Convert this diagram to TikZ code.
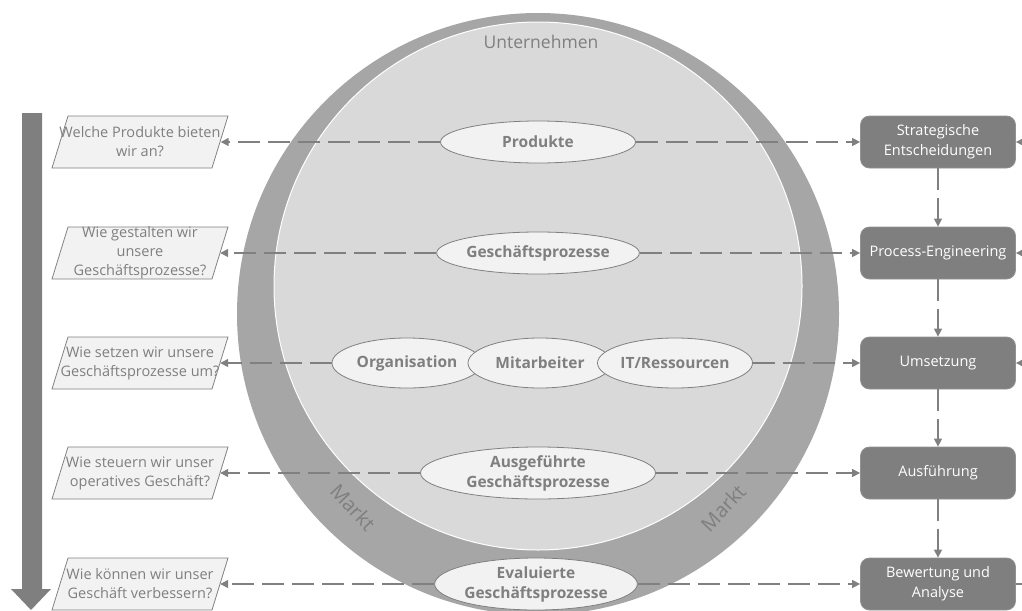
\documentclass[tikz,border=0pt]{standalone}
\usepackage{fontspec}
\setmainfont{Open Sans}
\usetikzlibrary{shapes.geometric,arrows.meta}
\definecolor{ring}{HTML}{A6A6A6}
\definecolor{core}{HTML}{D9D9D9}
\definecolor{pale}{HTML}{F2F2F2}
\definecolor{ink}{HTML}{7F7F7F}
\definecolor{linec}{HTML}{808080}
\begin{document}
\begin{tikzpicture}[x=1pt,y=-1pt,
  conn/.style={draw=linec, line width=1.4pt, dash pattern=on 22pt off 8pt,
    -{Triangle[length=8pt,width=8pt]}},
  plain/.style={draw=linec, line width=1.4pt},
  ell/.style={ellipse, draw=linec, line width=0.8pt, fill=pale, text=ink,
    font=\bfseries\fontsize{15.5}{20}\selectfont, inner sep=0pt, align=center},
  stage/.style={rounded corners=9pt, fill=ink, draw=ink!85!white, line width=0.8pt,
    text=white, minimum width=155, minimum height=52, align=center,
    font=\fontsize{14.5}{20}\selectfont, inner sep=0pt},
  qtext/.style={minimum width=160, minimum height=52, text=ink, align=center,
    inner sep=0pt, font=\fontsize{14.5}{19}\selectfont},
  para/.style={fill=pale, draw=linec, line width=0.8pt},
  ringtext/.style={text=ink, font=\fontsize{20}{22}\selectfont}
]
\useasboundingbox (0,0) rectangle (1022,610);
\clip (0,0) rectangle (1022,610);

% company inside its market
\fill[ring] (538,314) circle[radius=301];
\filldraw[fill=core, draw=white, line width=1pt] (538,286) circle[radius=264];
\node[text=ink, font=\fontsize{17.5}{22}\selectfont] (unt) at (541,42) {Unternehmen};
\node[ringtext, rotate=-47] (markt1) at (353,507) {Markt};
\node[ringtext, rotate=47] (markt2) at (723,508) {Markt};

% downward time arrow
\fill[ink] (22,113) -- (42,113) -- (42,589) -- (51,589) -- (31,610)
  -- (11,589) -- (22,589) -- cycle;

% question parallelograms
\foreach \y in {142,253,363,473,584}
  \draw[para] (52,\y+26) -- (68,\y-26) -- (228,\y-26) -- (212,\y+26) -- cycle;
\node[qtext] (q1) at (140,142) {Welche Produkte bieten\\wir an?};
\node[qtext] (q2) at (140,253) {Wie gestalten wir\\unsere\\Geschäftsprozesse?};
\node[qtext] (q3) at (140,363) {Wie setzen wir unsere\\Geschäftsprozesse um?};
\node[qtext] (q4) at (140,473) {Wie steuern wir unser\\operatives Geschäft?};
\node[qtext] (q5) at (140,584) {Wie können wir unser\\Geschäft verbessern?};

% elements of the company
\node[ell, minimum width=195, minimum height=42] (e1) at (538,142) {Produkte};
\node[ell, minimum width=195, minimum height=42] (e2) at (538,253) {Geschäftsprozesse};
\node[ell, minimum width=150, minimum height=50] (org) at (407,363) {Organisation};
\node[ell, minimum width=144, minimum height=50] (mit) at (540,363) {Mitarbeiter};
\node[ell, minimum width=155, minimum height=50] (its) at (675,363) {IT/Ressourcen};
\node[ell, minimum width=235, minimum height=52] (e4) at (538,473) {Ausgeführte\\Geschäftsprozesse};
\node[ell, minimum width=195, minimum height=52] (e5) at (536,584) {Evaluierte\\Geschäftsprozesse};

% management stages
\node[stage] (b1) at (938,142) {Strategische\\Entscheidungen};
\node[stage] (b2) at (938,253) {Process-Engineering};
\node[stage] (b3) at (938,363) {Umsetzung};
\node[stage] (b4) at (938,473) {Ausführung};
\node[stage] (b5) at (938,584) {Bewertung und\\Analyse};

% links to the questions and stages
\draw[conn] (e1.west) -- (q1.east);
\draw[conn] (e1.east) -- (b1.west);
\draw[conn] (e2.west) -- (q2.east);
\draw[conn] (e2.east) -- (b2.west);
\draw[conn] (org.west) -- (q3.east);
\draw[conn] (its.east) -- (b3.west);
\draw[conn] (e4.west) -- (q4.east);
\draw[conn] (e4.east) -- (b4.west);
\draw[conn] (e5.west) -- (q5.east);
\draw[conn] (e5.east) -- (b5.west);

% stage sequence
\draw[conn] (b1.south) -- (b2.north);
\draw[conn] (b2.south) -- (b3.north);
\draw[conn] (b3.south) -- (b4.north);
\draw[conn] (b4.south) -- (b5.north);

% feedback loop on the right
\coordinate (fb5) at (1040,584);
\coordinate (fb1) at (1040,142);
\coordinate (fb2) at (1040,253);
\coordinate (fb3) at (1040,363);
\draw[plain] (b5.east) -- (fb5) -- (fb1);
\draw[plain, -{Triangle[length=8pt,width=8pt]}] (fb1) -- (b1.east);
\draw[plain, -{Triangle[length=8pt,width=8pt]}] (fb2) -- (b2.east);
\draw[plain, -{Triangle[length=8pt,width=8pt]}] (fb3) -- (b3.east);
\end{tikzpicture}
\end{document}
